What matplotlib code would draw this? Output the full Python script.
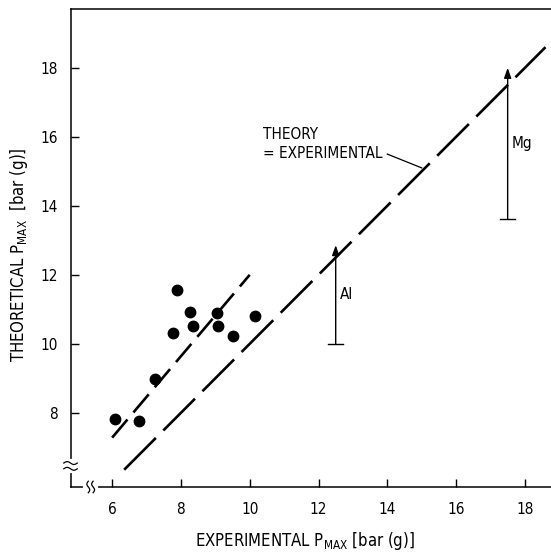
import numpy as np
import matplotlib
matplotlib.use("Agg")
import matplotlib.pyplot as plt

plt.rcParams['font.family'] = ['DejaVu Sans']
plt.rcParams['font.stretch'] = 'condensed'
plt.rcParams['mathtext.default'] = 'regular'

# measured points (experimental vs theoretical Pmax, bar g)
exp_p = [6.08, 6.77, 7.26, 7.77, 7.89, 8.26, 8.35, 9.05, 9.07, 9.50, 10.16]
theo_p = [7.81, 7.77, 8.97, 10.32, 11.56, 10.93, 10.51, 10.90, 10.51, 10.22, 10.80]

# dashed fit through the data
fit_x = [6.0, 10.0]
fit_y = [7.28, 12.0]

# theory = experimental line
ident_x = [6.35, 18.6]

# Al / Mg arrows: x, bottom, top
metal_names = ["Al", "Mg"]
metal_x = [12.5, 17.5]
metal_lo = [10.0, 13.62]
metal_hi = [12.86, 18.0]

xticks = [6, 8, 10, 12, 14, 16, 18]
yticks = [8, 10, 12, 14, 16, 18]

fig = plt.figure(figsize=(5.51, 5.54), dpi=100)
ax = fig.add_axes([0.128, 0.121, 0.872, 0.863])

ax.plot(fit_x, fit_y, color='black', lw=1.9, linestyle=(0, (9, 3.5)),
        dash_capstyle='butt')
ax.plot(ident_x, ident_x, color='black', lw=1.9, linestyle=(0, (17, 4)),
        dash_capstyle='butt')
ax.plot(exp_p, theo_p, 'o', color='black', markersize=7.5)

for name, x, lo, hi in zip(metal_names, metal_x, metal_lo, metal_hi):
    ax.annotate("", xy=(x, hi), xytext=(x, lo),
                arrowprops=dict(arrowstyle='-|>,head_length=0.5,head_width=0.18',
                                color='black', lw=1.0,
                                mutation_scale=12, shrinkA=0, shrinkB=0))
    ax.plot([x - 0.22, x + 0.22], [lo, lo], color='black', lw=1.0)
    ax.text(x + 0.12, (lo + hi) / 2, name, fontsize=11, va='center', ha='left')

ax.text(10.4, 15.3, "THEORY\n= EXPERIMENTAL", fontsize=11, ha='left',
        va='bottom', linespacing=1.35)
ax.plot([14.0, 15.0], [15.5, 15.1], color='black', lw=0.9)

ax.set_xlim(4.79, 18.76)
ax.set_ylim(5.85, 19.71)
ax.set_xticks(xticks)
ax.set_yticks(yticks)
ax.tick_params(direction='in', length=6, width=1.0, labelsize=11)
ax.tick_params(axis='x', pad=11)
ax.tick_params(axis='y', pad=9)
ax.spines['right'].set_visible(False)
for s in ['left', 'bottom', 'top']:
    ax.spines[s].set_linewidth(1.1)

ax.set_xlabel(r"EXPERIMENTAL P$_{MAX}$ [bar (g)]", fontsize=12, va='center')
ax.set_ylabel(r"THEORETICAL P$_{MAX}$  [bar (g)]", fontsize=12, va='center')
ax.xaxis.set_label_coords(0.487, -0.112)
ax.yaxis.set_label_coords(-0.107, 0.486)

# axis break marks
t = np.linspace(0, 1, 30)
bx = 0.042
ax.plot([bx - 0.012, bx + 0.012], [0, 0], color='white', lw=3,
        transform=ax.transAxes, clip_on=False, zorder=5)
for dx in (-0.005, 0.005):
    ax.plot(bx + dx + 0.003 * np.sin(2 * np.pi * t), -0.012 + 0.024 * t,
            color='black', lw=0.9, transform=ax.transAxes, clip_on=False, zorder=6)
by = 0.044
ax.plot([0, 0], [by - 0.01, by + 0.01], color='white', lw=3,
        transform=ax.transAxes, clip_on=False, zorder=5)
for dy in (-0.006, 0.006):
    ax.plot(-0.014 + 0.028 * t, by + dy + 0.003 * np.sin(2 * np.pi * t),
            color='black', lw=0.9, transform=ax.transAxes, clip_on=False, zorder=6)

fig.savefig("out.png", dpi=100)
